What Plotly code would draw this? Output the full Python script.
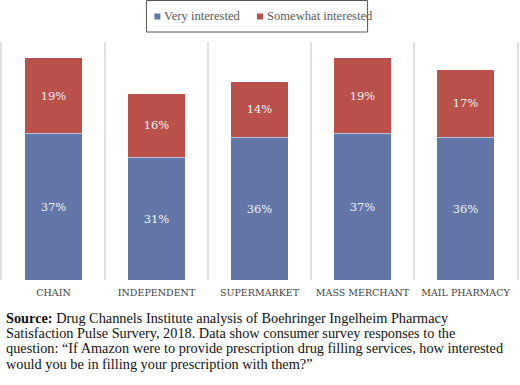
import plotly.graph_objects as go

categories = ["CHAIN", "INDEPENDENT", "SUPERMARKET", "MASS MERCHANT", "MAIL PHARMACY"]
very_interested = [37, 31, 36, 37, 36]
somewhat_interested = [19, 16, 14, 19, 17]
series_names = ["Very interested", "Somewhat interested"]

source_lines = [
    "<b>Source:</b> Drug Channels Institute analysis of Boehringer Ingelheim Pharmacy",
    "Satisfaction Pulse Survery, 2018. Data show consumer survey responses to the",
    "question: \u201cIf Amazon were to provide prescription drug filling services, how interested",
    "would you be in filling your prescription with them?\u201d",
]

W, H = 520, 385
L, R, T, B = 2, 1, 42, 105
plot_h = H - T - B

def py(p):
    return (H - B - p) / plot_h

def px(p):
    return (p - L) / (W - L - R)

BLUE = "#6277A8"
RED = "#B9504A"
GRID = "#e4dede"
LABEL_FONT = dict(family="DejaVu Serif", size=11.5, color="#f2f2f2")
colors = [BLUE, RED]

fig = go.Figure()
for vals, name, col in zip([very_interested, somewhat_interested], series_names, colors):
    fig.add_trace(go.Bar(
        x=categories, y=vals, name=name, showlegend=False,
        marker=dict(color=col, line=dict(color="rgba(255,255,255,0.35)", width=1)),
        text=[f"{v}%" for v in vals], textposition="inside",
        insidetextanchor="middle", textfont=LABEL_FONT, textangle=0,
    ))

# legend (box, swatches, labels)
fig.add_shape(type="rect", xref="paper", yref="paper",
              x0=px(147), x1=px(369), y0=py(32), y1=py(0.5),
              line=dict(color="#555555", width=1), fillcolor="white")
leg_sw = [155, 258]
for name, col, sx in zip(series_names, colors, leg_sw):
    fig.add_shape(type="rect", xref="paper", yref="paper",
                  x0=px(sx), x1=px(sx + 6), y0=py(19.5), y1=py(13.5),
                  line=dict(width=0), fillcolor=col)
    fig.add_annotation(text=name, xref="paper", yref="paper",
                       x=px(sx + 8), y=py(16.5), xanchor="left", yanchor="middle",
                       showarrow=False,
                       font=dict(family="Liberation Serif", size=12.6, color="#595959"))

ys = [317.5, 333, 348.5, 364]
for line, yy in zip(source_lines, ys):
    fig.add_annotation(
        text=line, xref="paper", yref="paper", x=px(4), y=py(yy),
        xanchor="left", yanchor="middle", showarrow=False, align="left",
        font=dict(family="Liberation Serif", size=14.3, color="#111111"),
    )

fig.update_layout(
    width=W, height=H,
    margin=dict(l=L, r=R, t=T, b=B),
    barmode="stack", bargap=0.44,
    plot_bgcolor="white", paper_bgcolor="white",
    uniformtext=dict(mode=False),
    showlegend=False,
    xaxis=dict(
        type="category", range=[-0.5, 4.5], tickson="boundaries",
        showgrid=True, gridcolor=GRID, gridwidth=1.5,
        showline=False, zeroline=False, ticks="", ticklabelstandoff=5,
        tickfont=dict(family="DejaVu Serif", size=9.5, color="#404040"),
    ),
    yaxis=dict(range=[0, 60], visible=True, showticklabels=False, ticks="",
               showgrid=False, zeroline=False,
               showline=True, mirror=True, linecolor=GRID, linewidth=1.5),
)

fig.write_html("out.html")
